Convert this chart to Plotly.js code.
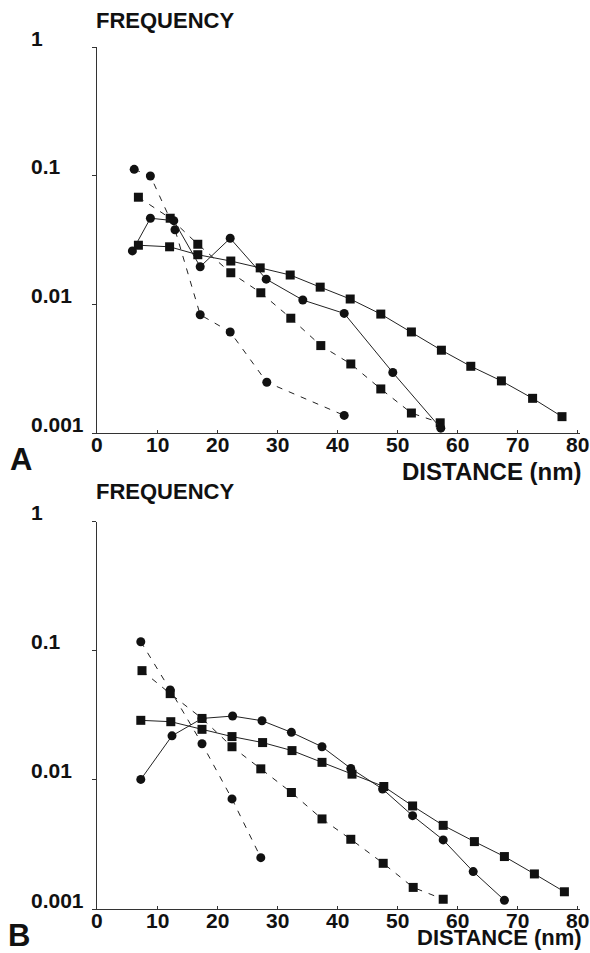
<!DOCTYPE html>
<html>
<head>
<meta charset="utf-8">
<script src="https://cdn.plot.ly/plotly-3.0.1.min.js"></script>
<style>
  html, body { margin: 0; padding: 0; background: #fff; }
  #chart { width: 590px; height: 953px; }
</style>
</head>
<body>
<div id="chart"></div>
<script>
// Panel A — distance (nm) vs frequency, four series
const xA_dashCirc = [6.2, 8.9, 13.0, 17.2, 22.2, 28.3, 41.2];
const yA_dashCirc = [0.112, 0.0995, 0.038, 0.0083, 0.0061, 0.00248, 0.00137];

const xA_solidCirc = [5.9, 8.9, 12.8, 17.2, 22.2, 28.2, 34.3, 41.2, 49.3, 57.3];
const yA_solidCirc = [0.026, 0.0467, 0.0447, 0.0196, 0.0326, 0.0157, 0.0108, 0.0085, 0.00295, 0.00109];

const xA_solidSq = [6.9, 12.1, 16.8, 22.3, 27.2, 32.2, 37.2, 42.2, 47.3, 52.4, 57.4, 62.3, 67.4, 72.6, 77.5];
const yA_solidSq = [0.0288, 0.028, 0.0243, 0.0217, 0.0192, 0.0169, 0.0136, 0.011, 0.0084, 0.0061, 0.0044, 0.0033, 0.00254, 0.00186, 0.00134];

const xA_dashSq = [6.9, 12.2, 16.8, 22.3, 27.3, 32.3, 37.3, 42.3, 47.3, 52.4, 57.2];
const yA_dashSq = [0.068, 0.0467, 0.0293, 0.0176, 0.0123, 0.0078, 0.00478, 0.00344, 0.0022, 0.00143, 0.0012];

// Panel B
const xB_dashCirc = [7.3, 12.2, 17.5, 22.5, 27.3];
const yB_dashCirc = [0.118, 0.0499, 0.0191, 0.00713, 0.0025];

const xB_solidCirc = [7.3, 12.5, 17.5, 22.6, 27.5, 32.4, 37.5, 42.3, 47.6, 52.6, 57.7, 62.7, 67.9];
const yB_solidCirc = [0.0101, 0.022, 0.030, 0.0313, 0.0288, 0.0234, 0.0181, 0.0123, 0.0085, 0.00529, 0.00343, 0.00195, 0.00117];

const xB_solidSq = [7.3, 12.3, 17.5, 22.5, 27.6, 32.5, 37.5, 42.5, 47.8, 52.6, 57.7, 62.9, 67.9, 72.9, 77.9];
const yB_solidSq = [0.029, 0.0283, 0.0247, 0.0217, 0.0195, 0.0169, 0.0137, 0.0111, 0.0089, 0.00629, 0.00445, 0.00333, 0.00255, 0.00187, 0.00136];

const xB_dashSq = [7.5, 12.2, 17.5, 22.5, 27.3, 32.4, 37.5, 42.3, 47.7, 52.7, 57.7];
const yB_dashSq = [0.0704, 0.0467, 0.030, 0.0181, 0.0122, 0.0080, 0.00499, 0.00347, 0.00226, 0.00147, 0.00119];

// Axis ticks and labels
const xTickVals = [0, 10, 20, 30, 40, 50, 60, 70, 80];
const xTickText = ['0', '10', '20', '30', '40', '50', '60', '70', '80'];
const yTickVals = [1, 0.1, 0.01, 0.001];
const yTickText = ['1', '0.1', '0.01', '0.001'];
const yTitle = 'FREQUENCY';
const xTitle = 'DISTANCE (nm)';
const panelLetters = ['A', 'B'];

const FONT = 'Liberation Sans, Arial, Helvetica, sans-serif';
const INK = '#111';

function series(x, y, symbol, dashed, xa, ya) {
  return {
    x: x, y: y, xaxis: xa, yaxis: ya,
    type: 'scatter', mode: 'lines+markers',
    line: { color: '#222', width: 1, dash: dashed ? '6px,7px' : 'solid' },
    marker: { symbol: symbol, size: 9, color: INK, line: { width: 0 } },
    showlegend: false, hoverinfo: 'x+y'
  };
}

const data = [
  series(xA_dashCirc, yA_dashCirc, 'circle', true, 'x', 'y'),
  series(xA_dashSq, yA_dashSq, 'square', true, 'x', 'y'),
  series(xA_solidCirc, yA_solidCirc, 'circle', false, 'x', 'y'),
  series(xA_solidSq, yA_solidSq, 'square', false, 'x', 'y'),
  series(xB_dashCirc, yB_dashCirc, 'circle', true, 'x2', 'y2'),
  series(xB_dashSq, yB_dashSq, 'square', true, 'x2', 'y2'),
  series(xB_solidCirc, yB_solidCirc, 'circle', false, 'x2', 'y2'),
  series(xB_solidSq, yB_solidSq, 'square', false, 'x2', 'y2')
];

function xAxis(anchor) {
  return {
    anchor: anchor, range: [0, 80.5], tickvals: xTickVals, showticklabels: false,
    ticks: 'inside', ticklen: 3, tickcolor: '#333', tickwidth: 1,
    showline: true, linecolor: '#333', linewidth: 1,
    showgrid: false, zeroline: false
  };
}
function yAxis(anchor, domain) {
  return {
    anchor: anchor, domain: domain, type: 'log', range: [-3, 0],
    tickvals: yTickVals, showticklabels: false,
    ticks: 'outside', ticklen: 4, tickcolor: '#333', tickwidth: 1,
    showline: true, linecolor: '#333', linewidth: 1,
    showgrid: false, zeroline: false
  };
}

const bold = (size) => ({ family: FONT, size: size, color: INK });
const b = (s) => '<b>' + s + '</b>';

const annotations = [];
// y tick labels, left aligned to the left of each axis
['y', 'y2'].forEach((ya) => {
  yTickVals.forEach((v, i) => {
    annotations.push({
      xref: 'paper', yref: ya, x: -0.139, y: Math.log10(v),
      xanchor: 'left', yanchor: 'middle', yshift: 9, borderpad: 0,
      text: b(yTickText[i]), showarrow: false, font: bold(21)
    });
  });
});
// x tick labels just under each x axis
[['x', 0.5522], ['x2', 0]].forEach(([xa, yPos]) => {
  xTickVals.forEach((v, i) => {
    annotations.push({
      xref: xa, yref: 'paper', x: v, y: yPos,
      xanchor: 'center', yanchor: 'top', yshift: 1, borderpad: 0,
      text: b(xTickText[i]), showarrow: false, font: bold(21)
    });
  });
});
// axis titles and panel letters
annotations.push(
  { xref: 'paper', yref: 'paper', x: -0.004, y: 1.031, xanchor: 'left', yanchor: 'middle',
    text: b(yTitle), showarrow: false, font: bold(22), borderpad: 0 },
  { xref: 'paper', yref: 'paper', x: -0.004, y: 0.4838, xanchor: 'left', yanchor: 'middle',
    text: b(yTitle), showarrow: false, font: bold(22), borderpad: 0 },
  { xref: 'paper', yref: 'paper', x: 1.006, y: 0.508, xanchor: 'right', yanchor: 'middle',
    text: b(xTitle), showarrow: false, font: bold(24), borderpad: 0 },
  { xref: 'paper', yref: 'paper', x: 1.006, y: -0.0336, xanchor: 'right', yanchor: 'middle',
    text: b(xTitle), showarrow: false, font: bold(22), borderpad: 0 },
  { xref: 'paper', yref: 'paper', x: -0.157, y: 0.5209, xanchor: 'center', yanchor: 'middle',
    text: b(panelLetters[0]), showarrow: false, font: bold(31), borderpad: 0 },
  { xref: 'paper', yref: 'paper', x: -0.161, y: -0.0313, xanchor: 'center', yanchor: 'middle',
    text: b(panelLetters[1]), showarrow: false, font: bold(31), borderpad: 0 }
);

const layout = {
  width: 590, height: 953,
  margin: { l: 97, r: 10, t: 47, b: 44 },
  paper_bgcolor: '#fff', plot_bgcolor: '#fff',
  xaxis: xAxis('y'),
  yaxis: yAxis('x', [0.5522, 1]),
  xaxis2: xAxis('y2'),
  yaxis2: yAxis('x2', [0, 0.449]),
  annotations: annotations,
  showlegend: false
};

Plotly.newPlot('chart', data, layout, { displayModeBar: false, staticPlot: true });
</script>
</body>
</html>
